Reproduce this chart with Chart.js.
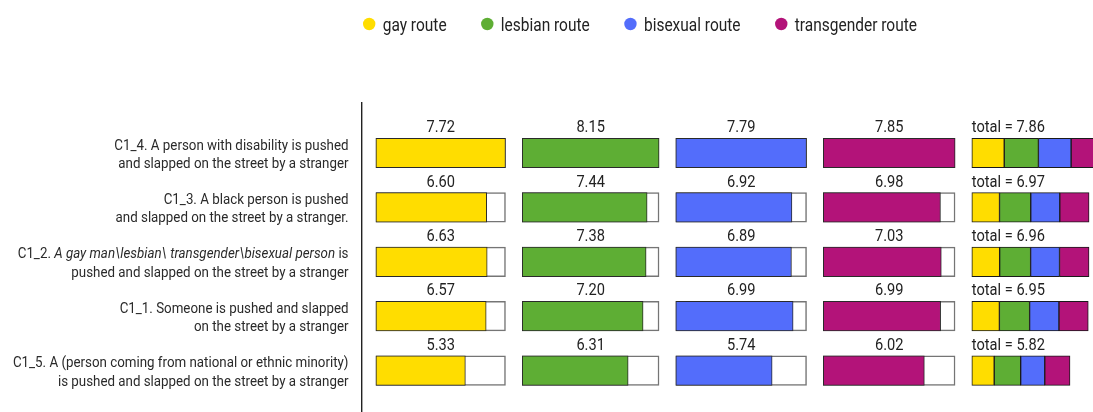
<!DOCTYPE html>
<html>
<head>
<meta charset="utf-8">
<script src="https://cdn.jsdelivr.net/npm/chart.js@4"></script>
<style>
  html, body { margin: 0; padding: 0; background: #fff; }
  #chart { display: block; }
</style>
</head>
<body>
<canvas id="chart" width="1093" height="412"></canvas>
<script>
// Row labels, top to bottom (two lines each); *...* marks an italic run
const categories = [
    ['C1_4. A person with disability is pushed', 'and slapped on the street by a stranger'],
    ['C1_3. A black person is pushed', 'and slapped on the street by a stranger.'],
    ['C1_2. *A gay man\\lesbian\\ transgender\\bisexual person* is', 'pushed and slapped on the street by a stranger'],
    ['C1_1. Someone is pushed and slapped', 'on the street by a stranger'],
    ['C1_5. A (person coming from national or ethnic minority)', 'is pushed and slapped on the street by a stranger']
];

const routes = ['gay route', 'lesbian route', 'bisexual route', 'transgender route'];

// mean scores per route, same row order as categories
const gay = [7.72, 6.60, 6.63, 6.57, 5.33];
const lesbian = [8.15, 7.44, 7.38, 7.20, 6.31];
const bisexual = [7.79, 6.92, 6.89, 6.99, 5.74];
const transgender = [7.85, 6.98, 7.03, 6.99, 6.02];
const totals = [7.86, 6.97, 6.96, 6.95, 5.82];

const colors = ['#FFDD00', '#5EAE34', '#536DFB', '#B31379'];
const series = [gay, lesbian, bisexual, transgender];

// Roboto squeezed horizontally to get a condensed look
const SQUEEZE = 0.86;
const TEXT = '#222';

function drawSqueezed(ctx, text, x, y) {
    ctx.save();
    ctx.translate(x, y);
    ctx.scale(SQUEEZE, 1);
    ctx.textAlign = 'left';
    ctx.fillText(text, 0, 0);
    ctx.restore();
}

function squeezedWidth(ctx, text) {
    return ctx.measureText(text).width * SQUEEZE;
}

// Each route gets its own panel on one shared x scale: the white track is
// as long as the route's best score, panels are one point apart
const offsets = [];
let cursor = 0.83;
series.forEach(s => {
    offsets.push(cursor);
    cursor += Math.max(...s) + 1;
});
const totalStart = cursor;

const datasets = [];
series.forEach((s, i) => {
    const max = Math.max(...s);
    datasets.push({
        label: routes[i] + ' track',
        data: s.map(() => [offsets[i], offsets[i] + max]),
        backgroundColor: '#fff',
        borderColor: '#757575',
        borderWidth: 1.5,
        order: 2,
        valueLabels: s
    });
    datasets.push({
        label: routes[i],
        data: s.map(v => [offsets[i], offsets[i] + v]),
        backgroundColor: colors[i],
        borderColor: '#2a2a2a',
        borderWidth: 1,
        order: 1,
        inLegend: true
    });
});

// total column: the four routes stacked, each at a quarter of its score
series.forEach((s, i) => {
    datasets.push({
        label: routes[i] + ' total',
        data: s.map((v, r) => {
            let a = totalStart;
            for (let j = 0; j < i; j++) a += series[j][r] / 4;
            return [a, a + v / 4];
        }),
        backgroundColor: colors[i],
        borderColor: '#1a1a1a',
        borderWidth: 1,
        order: 1,
        totalLabels: i === 0 ? totals : null
    });
});

// vertical rule between the row labels and the bars
const separator = {
    id: 'separator',
    afterDraw(chart) {
        const ctx = chart.ctx;
        const x = chart.chartArea.left - 0.3;
        ctx.save();
        ctx.strokeStyle = '#222';
        ctx.lineWidth = 1.4;
        ctx.beginPath();
        ctx.moveTo(x, 102);
        ctx.lineTo(x, chart.height);
        ctx.stroke();
        ctx.restore();
    }
};

// two-line right-aligned labels with italic runs
const rowLabels = {
    id: 'rowLabels',
    afterDraw(chart) {
        const ctx = chart.ctx;
        const yScale = chart.scales.y;
        const right = chart.chartArea.left - 13.5;
        ctx.save();
        ctx.fillStyle = '#2a2a2a';
        ctx.textBaseline = 'alphabetic';
        categories.forEach((lines, i) => {
            const cy = yScale.getPixelForValue(i);
            lines.forEach((line, k) => {
                const runs = line.split('*').map((t, n) => ({
                    text: t,
                    font: (n % 2 ? 'italic ' : '') + '400 15.5px Roboto'
                })).filter(r => r.text.length);
                let w = 0;
                runs.forEach(r => { ctx.font = r.font; w += squeezedWidth(ctx, r.text); });
                let x = right - w;
                const y = cy - 3.5 + k * 18.5;
                runs.forEach(r => {
                    ctx.font = r.font;
                    drawSqueezed(ctx, r.text, x, y);
                    x += squeezedWidth(ctx, r.text);
                });
            });
        });
        ctx.restore();
    }
};

// score above each track, "total = x" above the stacked column
const valueLabels = {
    id: 'valueLabels',
    afterDatasetsDraw(chart) {
        const ctx = chart.ctx;
        ctx.save();
        ctx.fillStyle = TEXT;
        ctx.font = '400 17px Roboto';
        ctx.textBaseline = 'alphabetic';
        chart.data.datasets.forEach((ds, d) => {
            const meta = chart.getDatasetMeta(d);
            if (ds.valueLabels) {
                meta.data.forEach((bar, i) => {
                    const p = bar.getProps(['x', 'base', 'y', 'height'], true);
                    const text = ds.valueLabels[i].toFixed(2);
                    const cx = (p.x + p.base) / 2;
                    drawSqueezed(ctx, text, cx - squeezedWidth(ctx, text) / 2, p.y - p.height / 2 - 6);
                });
            }
            if (ds.totalLabels) {
                meta.data.forEach((bar, i) => {
                    const p = bar.getProps(['x', 'base', 'y', 'height'], true);
                    drawSqueezed(ctx, 'total = ' + ds.totalLabels[i].toFixed(2), p.base, p.y - p.height / 2 - 6);
                });
            }
        });
        ctx.restore();
    }
};

// legend row: dot + route name
const routeLegend = {
    id: 'routeLegend',
    afterDraw(chart) {
        const ctx = chart.ctx;
        ctx.save();
        ctx.font = '400 18px Roboto';
        ctx.textBaseline = 'alphabetic';
        let x = chart.chartArea.left + 1;
        chart.data.datasets.filter(ds => ds.inLegend).forEach(ds => {
            ctx.fillStyle = ds.backgroundColor;
            ctx.beginPath();
            ctx.arc(x + 6.2, 24, 6.2, 0, Math.PI * 2);
            ctx.fill();
            ctx.fillStyle = TEXT;
            const tx = x + 19.7;
            drawSqueezed(ctx, ds.label, tx, 30.5);
            x = tx + squeezedWidth(ctx, ds.label) + 34.5;
        });
        ctx.restore();
    }
};

const ctx = document.getElementById('chart').getContext('2d');
const chart = new Chart(ctx, {
    type: 'bar',
    data: {
        labels: categories.map(c => c.join(' ').replace(/\*/g, '')),
        datasets: datasets
    },
    options: {
        indexAxis: 'y',
        responsive: false,
        animation: false,
        layout: {
            padding: { left: 362, right: 0, top: 125.8, bottom: 14.2 }
        },
        datasets: {
            bar: {
                grouped: false,
                barThickness: 29.5,
                borderSkipped: false
            }
        },
        scales: {
            x: { display: false, min: 0, max: 43.56 },
            y: { display: false }
        },
        plugins: {
            legend: { display: false },
            tooltip: { enabled: false }
        }
    },
    plugins: [separator, rowLabels, valueLabels, routeLegend]
});
</script>
</body>
</html>
